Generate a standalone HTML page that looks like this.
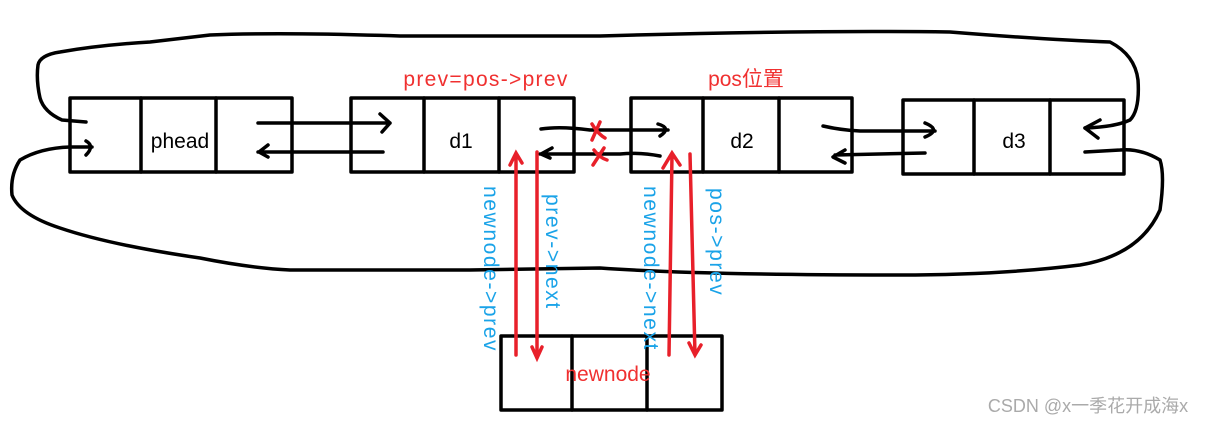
<!DOCTYPE html>
<html><head><meta charset="utf-8"><style>
html,body{margin:0;padding:0;background:#fff;}
svg{display:block}
text{font-family:"Liberation Sans","Noto Sans CJK SC",sans-serif;}
</style></head><body>
<svg width="1208" height="424" viewBox="0 0 1208 424" xmlns="http://www.w3.org/2000/svg">
<g fill="none" stroke="#000" stroke-width="3.5" stroke-linecap="round" stroke-linejoin="round">
<path d="M86,122 L62,120 Q44,112 40,98 Q36,80 38,65 Q40,55 60,52 Q100,45 150,42 L210,35 Q280,32 400,36 L600,36 Q800,30 950,32 Q1050,40 1110,42 Q1135,55 1138,80 Q1140,110 1130,120 Q1115,127 1085,128"/>
<path d="M70,147 Q40,148 20,160 Q10,175 12,195 Q20,215 60,228 Q110,245 200,258 Q250,268 290,270 L470,270 L600,268 Q700,275 900,275 Q1000,275 1080,265 Q1140,255 1160,210 Q1165,175 1160,160 Q1140,148 1120,150 L1085,152"/>
<rect x="70" y="98" width="222" height="74"/><line x1="141" y1="98" x2="141" y2="172"/><line x1="216" y1="98" x2="216" y2="172"/>
<rect x="351" y="98" width="223" height="74"/><line x1="424" y1="98" x2="424" y2="172"/><line x1="499" y1="98" x2="499" y2="172"/>
<rect x="631" y="98" width="221" height="74"/><line x1="703" y1="98" x2="703" y2="172"/><line x1="779" y1="98" x2="779" y2="172"/>
<rect x="903" y="100" width="221" height="74"/><line x1="974" y1="100" x2="974" y2="174"/><line x1="1050" y1="100" x2="1050" y2="174"/>
<rect x="501" y="336" width="221" height="74"/><line x1="572" y1="336" x2="572" y2="410"/><line x1="647" y1="336" x2="647" y2="410"/>
<path d="M258,123 L390,123 M380,114 L390,123 L382,132"/>
<path d="M383,152 L258,152 M268,145 L259,152 L268,157"/>
<path d="M70,147 L92,147 M86,141 Q95,146 86,155"/>
<path d="M541,129 Q560,126 590,130 L668,130 M658,124 Q672,128 660,136"/>
<path d="M660,156 Q640,152 620,154 L540,154 M552,148 L541,154 L550,158"/>
<path d="M823,126 Q840,130 860,131 L935,131 M925,123 Q942,130 925,137"/>
<path d="M925,153 L835,155 M845,150 L833,157 L845,163"/>
<path d="M1085,128 L1100,120 M1085,128 L1098,138"/>
</g>
<g fill="none" stroke="#e8202a" stroke-width="3.5" stroke-linecap="round">
<path d="M516,355 L516,155 M510,165 L516,153 L522,163"/>
<path d="M537,152 L537,358 M532,347 L537,358 L542,347"/>
<path d="M669,355 L672,155 M663,168 L672,153 L680,165"/>
<path d="M690,154 L695,355 M689,343 L695,355 L701,345"/>
<path d="M592,124 Q598,134 605,138 M600,122 L592,140"/>
<path d="M594,150 Q600,158 607,160 M604,148 L593,165"/>
</g>
<g font-size="21" text-anchor="middle">
<text x="180" y="148" fill="#000">phead</text>
<text x="461" y="148" fill="#000">d1</text>
<text x="742" y="148" fill="#000">d2</text>
<text x="1014" y="148" fill="#000">d3</text>
<text x="486" y="86" fill="#f03030" font-size="21" letter-spacing="1.3">prev=pos-&gt;prev</text>
<text x="746" y="86" fill="#f03030">pos位置</text>
<text x="608" y="381" fill="#f03030">newnode</text>
</g>
<g font-size="21" fill="#1aa3e8" letter-spacing="1.6">
<text transform="translate(484,186) rotate(90)">newnode-&gt;prev</text>
<text transform="translate(546,194) rotate(90)">prev-&gt;next</text>
<text transform="translate(644,186) rotate(90)">newnode-&gt;next</text>
<text transform="translate(710,188) rotate(90)">pos-&gt;prev</text>
</g>
<text x="1088" y="412" font-size="18" fill="#aaa" text-anchor="middle">CSDN @x一季花开成海x</text>
</svg>
</body></html>
